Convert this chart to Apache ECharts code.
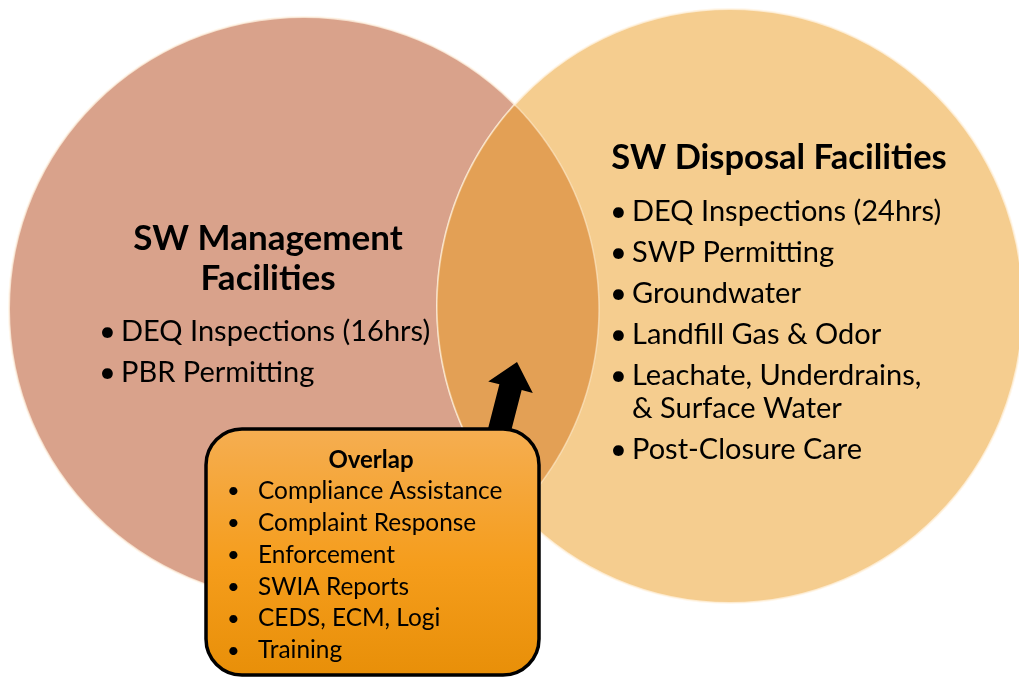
<!DOCTYPE html>
<html>
<head>
<meta charset="utf-8">
<script src="https://cdn.jsdelivr.net/npm/echarts@6/dist/echarts.min.js"></script>
<style>
  html, body { margin: 0; padding: 0; background: #fff; }
  #chart { width: 1019px; height: 677px; }
</style>
</head>
<body>
<div id="chart"></div>
<script>
// Venn data: the two sets and what is listed in each part
const setNames = ['SW Management Facilities', 'SW Disposal Facilities'];
const leftTitle = ['SW Management', 'Facilities'];
const leftItems = ['DEQ Inspections (16hrs)', 'PBR Permitting'];
const rightTitle = ['SW Disposal Facilities'];
const rightItems = [
  'DEQ Inspections (24hrs)',
  'SWP Permitting',
  'Groundwater',
  'Landfill Gas & Odor',
  'Leachate, Underdrains,\n& Surface Water',
  'Post-Closure Care'
];
const overlapTitle = 'Overlap';
const overlapItems = [
  'Compliance Assistance',
  'Complaint Response',
  'Enforcement',
  'SWIA Reports',
  'CEDS, ECM, Logi',
  'Training'
];

// layout (in axis units, 1 unit = 1 px)
const ellipses = [
  { cx: 304, cy: 309, rx: 295, ry: 292, color: '#D9A28B' },
  { cx: 730, cy: 306, rx: 293, ry: 297, color: '#F5CD8F' }
];
const overlapColor = '#E3A055';
const FONT = 'Lato, "Open Sans", sans-serif';

function inside(e, x, y) {
  const dx = (x - e.cx) / e.rx, dy = (y - e.cy) / e.ry;
  return dx * dx + dy * dy <= 1;
}

// lens polygon = arc of left ellipse inside the right one + arc of right inside the left
function lensPoints() {
  const [a, b] = ellipses;
  const pts = [];
  const N = 720;
  for (let i = 0; i <= N; i++) {
    const t = -Math.PI + (2 * Math.PI * i) / N;
    const x = a.cx + a.rx * Math.cos(t), y = a.cy + a.ry * Math.sin(t);
    if (inside(b, x, y)) pts.push([x, y]);
  }
  for (let i = 0; i <= N; i++) {
    const t = (2 * Math.PI * i) / N;
    const x = b.cx + b.rx * Math.cos(t), y = b.cy + b.ry * Math.sin(t);
    if (inside(a, x, y)) pts.push([x, y]);
  }
  return pts;
}

function renderVenn(params, api) {
  const c = (x, y) => api.coord([x, y]);
  const sx = api.size([1, 0])[0];
  const children = [];

  ellipses.forEach((e, i) => {
    const p = c(e.cx, e.cy);
    children.push({
      type: 'ellipse',
      name: setNames[i],
      shape: { cx: p[0], cy: p[1], rx: e.rx * sx, ry: e.ry * sx },
      style: { fill: e.color, stroke: 'rgba(255,244,228,0.75)', lineWidth: 2 }
    });
  });
  children.push({
    type: 'polygon',
    shape: { points: lensPoints().map(p => c(p[0], p[1])) },
    style: { fill: overlapColor, stroke: 'rgba(255,240,215,0.55)', lineWidth: 1.5 }
  });

  // arrow pointing from the box into the overlap
  const base = [499, 432], tip = [517, 362];
  const vx = tip[0] - base[0], vy = tip[1] - base[1];
  const len = Math.hypot(vx, vy);
  const ux = vx / len, uy = vy / len, nx = -uy, ny = ux;
  const headLen = 26, shaftW = 11.5, headW = 23;
  const hb = [tip[0] - ux * headLen, tip[1] - uy * headLen];
  const arrow = [
    [base[0] + nx * shaftW, base[1] + ny * shaftW],
    [hb[0] + nx * shaftW, hb[1] + ny * shaftW],
    [hb[0] + nx * headW, hb[1] + ny * headW],
    tip,
    [hb[0] - nx * headW, hb[1] - ny * headW],
    [hb[0] - nx * shaftW, hb[1] - ny * shaftW],
    [base[0] - nx * shaftW, base[1] - ny * shaftW]
  ];
  children.push({
    type: 'polygon',
    shape: { points: arrow.map(p => c(p[0], p[1])) },
    style: { fill: '#000' }
  });

  // overlap box
  const b0 = c(206, 429), b1 = c(539, 675);
  children.push({
    type: 'rect',
    shape: { x: b0[0], y: b0[1], width: b1[0] - b0[0], height: b1[1] - b0[1], r: 36 },
    style: {
      fill: new echarts.graphic.LinearGradient(0, 0, 0, 1, [
        { offset: 0, color: '#F5AE52' },
        { offset: 0.55, color: '#F59D1C' },
        { offset: 1, color: '#E88F08' }
      ]),
      stroke: '#000',
      lineWidth: 3.5
    }
  });

  const text = (str, x, y, size, bold, align) => {
    const p = c(x, y);
    children.push({
      type: 'text',
      x: p[0], y: p[1],
      style: {
        text: str, fill: '#000', font: (bold ? 'bold ' : '') + size + 'px ' + FONT,
        align: align || 'left', verticalAlign: 'middle', lineHeight: 33
      }
    });
  };

  // left set
  leftTitle.forEach((t, i) => text(t, 268, 239 + i * 40, 35, true, 'center'));
  leftItems.forEach((t, i) => {
    text('\u2022', 99, 332 + i * 41, 29, false);
    text(t, 121, 332 + i * 41, 29, false);
  });

  // right set
  rightTitle.forEach((t, i) => text(t, 779, 158 + i * 40, 34.5, true, 'center'));
  let y = 212;
  rightItems.forEach(t => {
    const lines = t.split('\n').length;
    const mid = y + (lines - 1) * 16.5;
    text('\u2022', 610, y, 29, false);
    text(t, 632, mid, 29, false);
    y += 41 + (lines - 1) * 33;
  });

  // overlap list
  text(overlapTitle, 371, 460, 24, true, 'center');
  overlapItems.forEach((t, i) => {
    text('\u2022', 227, 491 + i * 31.9, 22, false);
    text(t, 258, 491 + i * 31.9, 24.4, false);
  });

  return { type: 'group', children };
}

const chart = echarts.init(document.getElementById('chart'));
chart.setOption({
  animation: false,
  backgroundColor: '#fff',
  grid: { left: 0, right: 0, top: 0, bottom: 0 },
  xAxis: { type: 'value', min: 0, max: 1019, show: false },
  yAxis: { type: 'value', min: 0, max: 677, inverse: true, show: false },
  series: [{
    type: 'custom',
    coordinateSystem: 'cartesian2d',
    clip: false,
    data: [[0, 0]],
    renderItem: renderVenn
  }]
});
</script>
</body>
</html>
